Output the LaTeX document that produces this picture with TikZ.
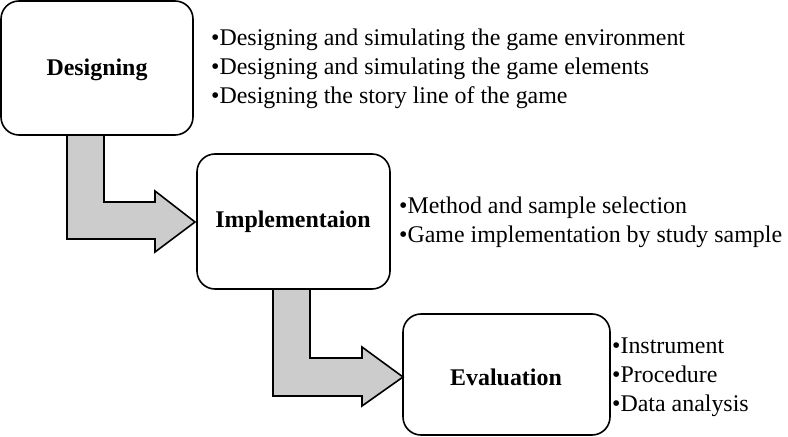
\documentclass[tikz,border=0pt]{standalone}
\usepackage{fontspec}
\setmainfont{Liberation Serif}
\begin{document}
\begin{tikzpicture}[x=1bp,y=-1bp,
  box/.style={draw,line width=1.6bp,rounded corners=18bp},
  title/.style={font=\fontsize{24}{28}\selectfont\bfseries},
  blist/.style={font=\fontsize{24}{29}\selectfont,align=left,anchor=west,inner sep=0pt},
  harrow/.style={draw,line width=1.6bp,fill=black!20}]
\useasboundingbox (0,0) rectangle (788,437);
\draw[box] (1,1) rectangle (193,135);
\node[title] (t1) at (97,70) {Designing};
\draw[box] (197,154) rectangle (390,289);
\node[title] (t2) at (293,222) {Implementaion};
\draw[box] (403,314) rectangle (610,435);
\node[title] (t3) at (506,377) {Evaluation};
\node[blist] (b1) at (211,69) {•Designing and simulating the game environment\\•Designing and simulating the game elements\\•Designing the story line of the game};
\node[blist] (b2) at (399,222) {•Method and sample selection\\•Game implementation by study sample};
\node[blist] (b3) at (612,377) {•Instrument\\•Procedure\\•Data analysis};
\draw[harrow] (67,135) -- (104,135) -- (104,202) -- (155,202) -- (155,191) -- (195,222) -- (155,252) -- (155,239) -- (67,239) -- cycle;
\draw[harrow] (273,289) -- (310,289) -- (310,358) -- (362,358) -- (362,347) -- (403,377) -- (362,406) -- (362,396) -- (273,396) -- cycle;
\end{tikzpicture}
\end{document}
